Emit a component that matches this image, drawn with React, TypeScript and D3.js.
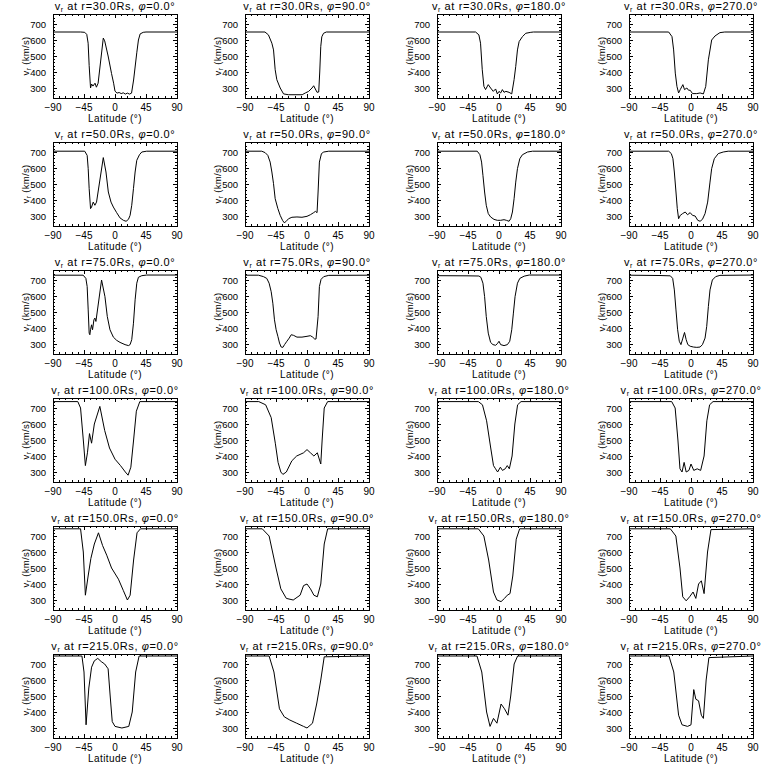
import * as d3 from "d3";
import { useEffect, useRef } from "react";

type Pt = [number, number];

// radial distances (rows) and longitudes (columns)
const radii = [30, 50, 75, 100, 150, 215];
const longitudes = [0, 90, 180, 270];
const latTicks = [-90, -45, 0, 45, 90];
const vTicks = [300, 400, 500, 600, 700];
const vRange: [number, number] = [237.5, 762.5];

// [latitude (deg), v_r (km/s)]
const r30p0: Pt[] = [[-90, 650], [-50, 650], [-44, 648], [-41, 635], [-39, 580], [-37.5, 440], [-35.5, 300], [-34, 325], [-32, 312], [-29, 330], [-27, 305], [-24.5, 330], [-17, 612], [-15, 595], [-10, 500], [-5, 390], [-2, 330], [0, 280], [3, 268], [6, 272], [9, 265], [12, 270], [15, 262], [18, 268], [21, 262], [24, 268], [27, 350], [31.6, 520], [34, 600], [36.5, 638], [41, 648], [45, 650], [90, 650]];
const r30p90: Pt[] = [[-90, 650], [-61, 650], [-56, 632], [-51, 580], [-48.6, 538], [-46.2, 414], [-43.8, 352], [-38.9, 300], [-34, 263], [-27, 258], [-7, 258], [-2.4, 269], [2.4, 279], [7.3, 300], [9.7, 314], [14.6, 273], [17, 275], [18.5, 400], [20, 560], [21.5, 620], [24, 642], [28, 650], [90, 650]];
const r30p180: Pt[] = [[-90, 650], [-34, 650], [-29.2, 632], [-26.8, 580], [-24.3, 414], [-21.9, 310], [-19.5, 290], [-15.6, 321], [-12.2, 300], [-8.3, 279], [-4.9, 294], [-2.4, 263], [0, 279], [2.4, 269], [4.9, 290], [7.3, 273], [10, 279], [14.6, 273], [18.5, 263], [21.9, 352], [24.3, 435], [26.8, 538], [29.2, 590], [34, 621], [38.9, 642], [46.2, 648], [50, 650], [90, 650]];
const r30p270: Pt[] = [[-90, 650], [-32.4, 650], [-27.6, 621], [-25.2, 538], [-22.8, 393], [-20.4, 310], [-18, 269], [-15.6, 290], [-11.8, 321], [-9.4, 290], [-6, 300], [-3.6, 286], [-1.2, 286], [2.2, 265], [8.4, 265], [13.2, 269], [18, 263], [21.4, 310], [25.2, 476], [30, 600], [34.8, 625], [42, 646], [49, 650], [90, 650]];

const r50p0: Pt[] = [[-90, 705], [-44, 705], [-40.4, 679], [-38.9, 596], [-37.5, 471], [-35.5, 346], [-34, 356], [-31.6, 387], [-29.2, 367], [-26.8, 387], [-17, 665], [-13.1, 575], [-9.7, 450], [-5.8, 387], [-2.4, 356], [2.4, 321], [7.3, 288], [12.2, 273], [16.1, 267], [19.5, 279], [21.9, 304], [24.3, 367], [26.8, 471], [29.2, 575], [31.6, 648], [35.5, 683], [38.9, 700], [46, 705], [90, 705]];
const r50p90: Pt[] = [[-90, 705], [-65.7, 705], [-60.8, 696], [-56.9, 679], [-53.5, 637], [-51, 575], [-48.6, 502], [-46.2, 408], [-42.3, 346], [-38.9, 304], [-35.5, 273], [-33.1, 258], [-30.6, 265], [-26.8, 283], [-21.9, 292], [-14.6, 294], [-7.3, 292], [0, 298], [4.9, 308], [9.7, 321], [12.2, 329], [14.6, 321], [16.1, 450], [18, 637], [21, 690], [24.3, 700], [31.6, 705], [90, 705]];
const r50p180: Pt[] = [[-90, 705], [-31.6, 705], [-27.7, 683], [-25.3, 637], [-23.3, 554], [-20.9, 450], [-18.5, 367], [-15.6, 315], [-12.2, 294], [-7.3, 279], [-2.4, 273], [2.4, 273], [7.3, 277], [10.7, 273], [14.6, 267], [17, 283], [19.5, 325], [21.9, 408], [24.3, 512], [26.8, 596], [30.2, 658], [34, 683], [41.4, 700], [48.7, 705], [90, 705]];
const r50p270: Pt[] = [[-90, 705], [-32.4, 705], [-28.6, 690], [-26.2, 658], [-24.2, 575], [-21.8, 450], [-19.9, 346], [-18, 283], [-15.6, 304], [-12.2, 315], [-8.4, 325], [-5, 308], [-1.2, 321], [2.2, 304], [6, 300], [9.8, 273], [13.2, 267], [16.6, 279], [20.4, 315], [24.2, 387], [27.6, 512], [30, 596], [33.8, 658], [39.6, 690], [46.8, 700], [54, 705], [90, 705]];

const r75p0: Pt[] = [[-90, 730], [-46.2, 730], [-42.3, 710], [-40.4, 659], [-38.9, 513], [-37.5, 368], [-36.5, 358], [-35.5, 389], [-34, 420], [-32.6, 389], [-30.6, 451], [-29.2, 462], [-27.7, 441], [-19.5, 700], [-14.6, 596], [-11.2, 472], [-7.3, 389], [-2.4, 343], [2.4, 323], [7.3, 310], [14.6, 296], [19.5, 290], [21.9, 296], [24.3, 327], [26.8, 430], [29.2, 576], [31.6, 680], [34, 717], [38.9, 727], [46, 731], [90, 731]];
const r75p90: Pt[] = [[-90, 730], [-70.5, 730], [-63.2, 721], [-58.4, 710], [-55, 680], [-52, 627], [-49.6, 555], [-47.2, 451], [-44.8, 389], [-42.3, 348], [-39.9, 306], [-37.5, 281], [-35, 279], [-32.6, 296], [-29.2, 317], [-25.8, 337], [-22.9, 358], [-19.5, 354], [-14.6, 343], [-7.3, 343], [0, 348], [4.9, 352], [8.3, 343], [11.2, 331], [13.1, 331], [16.1, 472], [18, 659], [20.4, 704], [24.3, 721], [31.6, 729], [90, 730]];
const r75p180: Pt[] = [[-90, 727], [-45, 726], [-29.2, 725], [-26.3, 717], [-23.3, 680], [-20.9, 596], [-18.5, 472], [-15.6, 368], [-12.2, 310], [-8.8, 296], [-4.9, 292], [-2.4, 302], [0, 317], [2.4, 296], [7.3, 290], [12.2, 296], [15.6, 317], [18.5, 389], [20.9, 493], [23.3, 596], [26.8, 680], [30.2, 710], [36.5, 724], [43.8, 731], [90, 731]];
const r75p270: Pt[] = [[-90, 730], [-45, 728], [-30, 726], [-26.6, 710], [-24.2, 638], [-21.8, 513], [-19.4, 389], [-17, 317], [-14.6, 296], [-11.8, 337], [-9.4, 372], [-7, 327], [-4.6, 296], [-1.2, 286], [3.6, 281], [8.4, 279], [13.2, 281], [16.6, 296], [20.4, 337], [22.8, 410], [25.2, 534], [27.6, 638], [31, 700], [35.8, 721], [42, 729], [90, 731]];

const r100p0: Pt[] = [[-90, 740], [-54, 740], [-50, 700], [-46, 500], [-43, 340], [-40, 420], [-37, 540], [-34, 480], [-30, 600], [-22, 710], [-15, 560], [-8, 450], [0, 380], [8, 340], [15, 300], [19, 280], [23, 330], [27, 500], [31, 680], [36, 740], [90, 740]];
const r100p90: Pt[] = [[-90, 740], [-70, 740], [-60, 720], [-52, 640], [-46, 480], [-42, 360], [-38, 300], [-35, 285], [-30, 300], [-22, 370], [-15, 400], [-5, 420], [0, 440], [5, 420], [10, 400], [15, 420], [20, 350], [22, 500], [25, 700], [30, 740], [90, 740]];
const r100p180: Pt[] = [[-90, 740], [-30, 740], [-24, 720], [-18, 620], [-12, 450], [-8, 340], [-5, 320], [-2, 300], [2, 330], [5, 310], [9, 320], [12, 340], [15, 320], [19, 400], [23, 600], [27, 720], [32, 740], [90, 740]];
const r100p270: Pt[] = [[-90, 740], [-28, 740], [-23, 700], [-19, 500], [-16, 320], [-13, 300], [-10, 360], [-7, 300], [-3, 310], [0, 350], [4, 310], [9, 320], [14, 310], [19, 400], [23, 620], [27, 720], [32, 740], [90, 740]];

const r150p0: Pt[] = [[-90, 745], [-50, 745], [-46, 600], [-43, 330], [-39, 450], [-35, 560], [-30, 650], [-24, 720], [-18, 640], [-12, 580], [-5, 500], [5, 430], [12, 360], [18, 300], [22, 330], [27, 550], [32, 720], [37, 745], [90, 745]];
const r150p90: Pt[] = [[-90, 745], [-65, 745], [-55, 700], [-45, 500], [-38, 370], [-30, 310], [-20, 300], [-10, 330], [-5, 390], [0, 400], [5, 370], [10, 330], [15, 320], [20, 400], [25, 650], [30, 745], [90, 745]];
const r150p180: Pt[] = [[-90, 745], [-30, 745], [-22, 700], [-15, 550], [-8, 350], [-3, 300], [3, 290], [8, 310], [12, 330], [16, 340], [20, 450], [25, 680], [30, 745], [90, 745]];
const r150p270: Pt[] = [[-90, 745], [-30, 745], [-22, 700], [-16, 500], [-12, 320], [-7, 295], [-2, 320], [3, 350], [7, 310], [11, 400], [15, 420], [19, 340], [24, 600], [29, 740], [90, 745]];

const r215p0: Pt[] = [[-90, 750], [-48, 750], [-45, 650], [-42, 320], [-38, 550], [-34, 680], [-30, 720], [-25, 735], [-20, 715], [-15, 700], [-10, 670], [-7, 500], [-4, 340], [0, 310], [10, 300], [20, 310], [25, 400], [30, 650], [35, 750], [90, 750]];
const r215p90: Pt[] = [[-90, 750], [-55, 750], [-48, 650], [-40, 420], [-33, 370], [-25, 350], [-15, 330], [-5, 310], [0, 300], [8, 330], [14, 450], [20, 600], [25, 745], [90, 750]];
const r215p180: Pt[] = [[-90, 750], [-32, 750], [-25, 650], [-18, 400], [-13, 310], [-8, 360], [-3, 330], [3, 450], [8, 420], [13, 380], [17, 500], [22, 700], [27, 750], [90, 750]];
const r215p270: Pt[] = [[-90, 750], [-32, 750], [-25, 650], [-18, 380], [-13, 320], [-5, 310], [0, 320], [4, 540], [7, 480], [11, 470], [15, 380], [18, 360], [22, 600], [26, 740], [90, 750]];

const profiles: Pt[][][] = [
  [r30p0, r30p90, r30p180, r30p270],
  [r50p0, r50p90, r50p180, r50p270],
  [r75p0, r75p90, r75p180, r75p270],
  [r100p0, r100p90, r100p180, r100p270],
  [r150p0, r150p90, r150p180, r150p270],
  [r215p0, r215p90, r215p180, r215p270],
];

export default function App() {
  const svgRef = useRef<SVGSVGElement>(null);

  useEffect(() => {
    if (!svgRef.current) return;
    const svg = d3.select(svgRef.current);
    svg.selectAll("*").remove();

    svg.append("rect").attr("width", 768).attr("height", 768).attr("fill", "#fff");

    const plotW = 124;
    const plotH = 84;
    const font = "'Liberation Sans', sans-serif";

    profiles.forEach((row, ri) => {
      row.forEach((data, ci) => {
        const x0 = 53 + ci * 192;
        const y0 = 14 + ri * 128;
        const x = d3.scaleLinear().domain([-90, 90]).range([x0, x0 + plotW]);
        const y = d3.scaleLinear().domain(vRange).range([y0 + plotH, y0]);
        const g = svg.append("g");

        // frame
        g.append("rect")
          .attr("x", x0 + 0.5)
          .attr("y", y0 + 0.5)
          .attr("width", plotW)
          .attr("height", plotH)
          .attr("fill", "none")
          .attr("stroke", "#000")
          .attr("stroke-width", 1)
          .attr("shape-rendering", "crispEdges");

        // x ticks (bottom + top)
        d3.range(-90, 91, 9).forEach((t) => {
          const len = t % 45 === 0 ? 4 : 2;
          const xt = Math.round(x(t)) + 0.5;
          g.append("line").attr("x1", xt).attr("x2", xt).attr("y1", y0 + plotH).attr("y2", y0 + plotH - len).attr("stroke", "#000").attr("shape-rendering", "crispEdges");
          g.append("line").attr("x1", xt).attr("x2", xt).attr("y1", y0).attr("y2", y0 + len).attr("stroke", "#000").attr("shape-rendering", "crispEdges");
        });
        // y ticks (left + right)
        d3.range(240, 761, 20).forEach((t) => {
          const len = t % 100 === 0 ? 4 : 2;
          const yt = Math.round(y(t)) + 0.5;
          g.append("line").attr("x1", x0).attr("x2", x0 + len).attr("y1", yt).attr("y2", yt).attr("stroke", "#000").attr("shape-rendering", "crispEdges");
          g.append("line").attr("x1", x0 + plotW).attr("x2", x0 + plotW - len).attr("y1", yt).attr("y2", yt).attr("stroke", "#000").attr("shape-rendering", "crispEdges");
        });

        g.selectAll("text.xt")
          .data(latTicks)
          .enter()
          .append("text")
          .attr("x", (d) => x(d))
          .attr("y", y0 + plotH + 13)
          .attr("text-anchor", "middle")
          .attr("font-family", font)
          .attr("font-size", 10)
          .text((d) => (d < 0 ? "\u2212" + Math.abs(d) : String(d)));

        g.selectAll("text.yt")
          .data(vTicks)
          .enter()
          .append("text")
          .attr("x", x0 - 7)
          .attr("y", (d) => y(d) + 3.5)
          .attr("text-anchor", "end")
          .attr("font-family", font)
          .attr("font-size", 9.5)
          .text((d) => String(d));

        g.append("text")
          .attr("x", x0 + plotW / 2)
          .attr("y", y0 + plotH + 24)
          .attr("text-anchor", "middle")
          .attr("font-family", font)
          .attr("font-size", 10)
          .attr("letter-spacing", 0.4)
          .text("Latitude (\u00b0)");

        const yl = g.append("text")
          .attr("transform", `translate(${x0 - 24},${y0 + plotH / 2}) rotate(-90)`)
          .attr("text-anchor", "middle")
          .attr("font-family", font)
          .attr("font-size", 9.5)
          .attr("letter-spacing", 0.3);
        yl.append("tspan").text("v");
        yl.append("tspan").attr("font-size", 7).attr("dy", 2).text("r");
        yl.append("tspan").attr("dy", -2).text(" (km/s)");

        const title = g.append("text")
          .attr("x", x0 + plotW / 2)
          .attr("y", y0 - 4)
          .attr("text-anchor", "middle")
          .attr("font-family", font)
          .attr("font-size", 11)
          .attr("letter-spacing", 0.6);
        title.append("tspan").text("v");
        title.append("tspan").attr("font-size", 7).attr("dy", 2).text("r");
        title.append("tspan").attr("dy", -2).text(` at r=${radii[ri].toFixed(1)}Rs, `);
        title.append("tspan").attr("font-style", "italic").text("\u03c6");
        title.append("tspan").text(`=${longitudes[ci].toFixed(1)}\u00b0`);

        const line = d3.line<Pt>().x((d) => x(d[0])).y((d) => y(d[1]));
        g.append("path")
          .attr("d", line(data) ?? "")
          .attr("fill", "none")
          .attr("stroke", "#000")
          .attr("stroke-width", 1);
      });
    });
  }, []);

  return (
    <svg
      ref={svgRef}
      width={768}
      height={768}
      style={{ position: "absolute", left: 0, top: 0, display: "block" }}
    ></svg>
  );
}
